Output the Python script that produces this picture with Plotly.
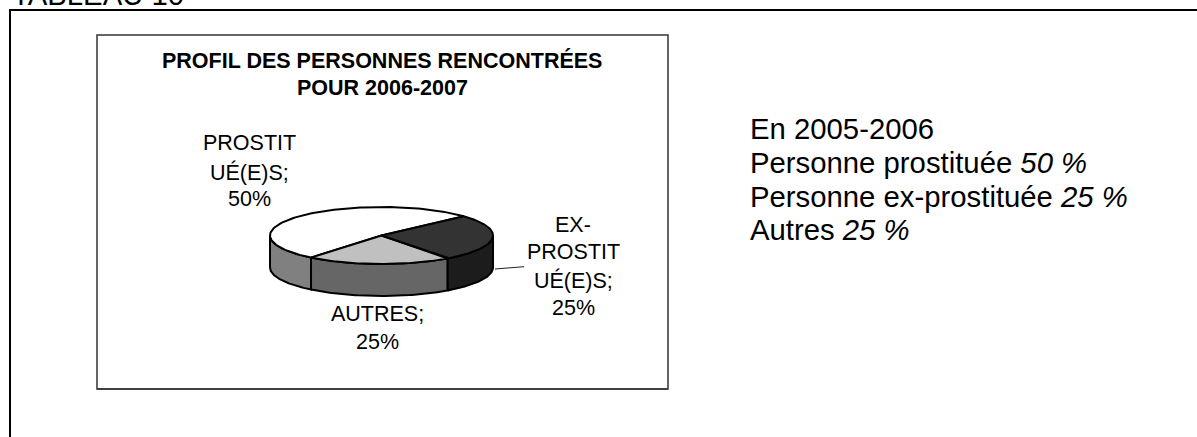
import numpy as np
import plotly.graph_objects as go

categories = ["PROSTITUÉ(E)S", "AUTRES", "EX-PROSTITUÉ(E)S"]
values = [50, 25, 25]
top_colors = ["#ffffff", "#c0c0c0", "#333333"]
side_colors = ["#808080", "#666666", "#1c1c1c"]
label_lines = [["PROSTIT", "UÉ(E)S;", "50%"], ["AUTRES;", "25%"], ["EX-", "PROSTIT", "UÉ(E)S;", "25%"]]
label_x = [249, 377, 573]
label_y = [[143, 172, 199], [314, 342], [225, 252, 280, 308]]
history_title = "En 2005-2006"
history_names = ["Personne prostituée", "Personne ex-prostituée", "Autres"]
history_values = ["50 %", "25 %", "25 %"]
chart_title = ["PROFIL DES PERSONNES RENCONTRÉES", "POUR 2006-2007"]
page_title = "TABLEAU 10"

W, H = 1197, 437
CX, CY, RX, RY, DEPTH = 381.5, 235.5, 111.5, 28.5, 32
START = 42.0  # angle at which the first slice ends, going counter-clockwise
FONT = "Liberation Sans"


def view(theta):
    """Angle seen on the tilted pie (3D perspective drags the front slices)."""
    t = np.radians(theta)
    return theta + 4.6 - 9.94 * np.cos(t) + 4.77 * np.sin(t)


def pt(angle):
    a = np.radians(angle)
    return CX + RX * np.cos(a), CY - RY * np.sin(a)


fig = go.Figure()

edges = [START]
for v in values:
    edges.append(edges[-1] + v / sum(values) * 360)
spans = []
for i in range(3):
    a, b = edges[i], edges[i + 1]
    spans.append((float(view(a)), float(view(b))))
spans = [(s, e if e > s else e + 360) for s, e in spans]

for (s, e), col in zip(spans, side_colors):
    for off in (0, 360, -360):
        lo, hi = max(s + off, 180), min(e + off, 360)
        if hi > lo:
            ang = np.linspace(lo, hi, 60)
            x, y = pt(ang)
            fig.add_trace(go.Scatter(
                x=np.r_[x, x[::-1], x[0]], y=np.r_[y + DEPTH, y[::-1], y[0] + DEPTH],
                mode="lines", fill="toself", fillcolor=col,
                line=dict(color="#000000", width=2), hoverinfo="skip", showlegend=False))

for (s, e), col in zip(spans, top_colors):
    ang = np.linspace(s, e, 120)
    x, y = pt(ang)
    fig.add_trace(go.Scatter(
        x=np.r_[CX, x, CX], y=np.r_[CY, y, CY],
        mode="lines", fill="toself", fillcolor=col,
        line=dict(color="#000000", width=2), hoverinfo="skip", showlegend=False))

fig.add_trace(go.Scatter(x=[495, 524], y=[269, 266.7], mode="lines",
                         line=dict(color="#222222", width=1), hoverinfo="skip", showlegend=False))

ann = []


def text(x, y, s, size, anchor="center", ya="middle"):
    ann.append(dict(x=x, y=y, text=s, xref="x", yref="y", showarrow=False, xanchor=anchor, yanchor=ya,
                    font=dict(family=FONT, size=size, color="#000000"), borderpad=0, borderwidth=0))


text(12, 11, page_title, 29.3, "left", "bottom")
for line, y in zip(chart_title, [60, 88]):
    text(382, y, f"<b>{line}</b>", 21.5)
for lines, xs, ys in zip(label_lines, label_x, label_y):
    for line, y in zip(lines, ys):
        text(xs, y, line, 21.5)
text(750, 128, history_title, 29.3, "left")
for name, val, y in zip(history_names, history_values, [162, 196, 229]):
    text(750, y, f"{name} <i>{val}</i>", 29.3, "left")

frame = lambda x0, y0, x1, y1, w, c: dict(type="rect", xref="x", yref="y", x0=x0, y0=y0, x1=x1, y1=y1,
                                          line=dict(color=c, width=w), layer="below")
shapes = [frame(10, 10, 1230, 470, 2, "#000000"),
          frame(97, 35, 668, 389, 1.5, "#333333"),
          dict(type="line", xref="x", yref="y", x0=97, x1=668, y0=389, y1=389,
               line=dict(color="#404040", width=2), layer="below")]

fig.update_layout(
    width=W, height=H, margin=dict(l=0, r=0, t=0, b=0), paper_bgcolor="#ffffff", plot_bgcolor="#ffffff",
    xaxis=dict(range=[0, W], visible=False, fixedrange=True),
    yaxis=dict(range=[H, 0], visible=False, fixedrange=True),
    annotations=ann, shapes=shapes, showlegend=False)
fig.write_html("out.html", config={"displayModeBar": False},
               post_script="document.body.style.margin='0';document.documentElement.style.overflow='hidden';")
